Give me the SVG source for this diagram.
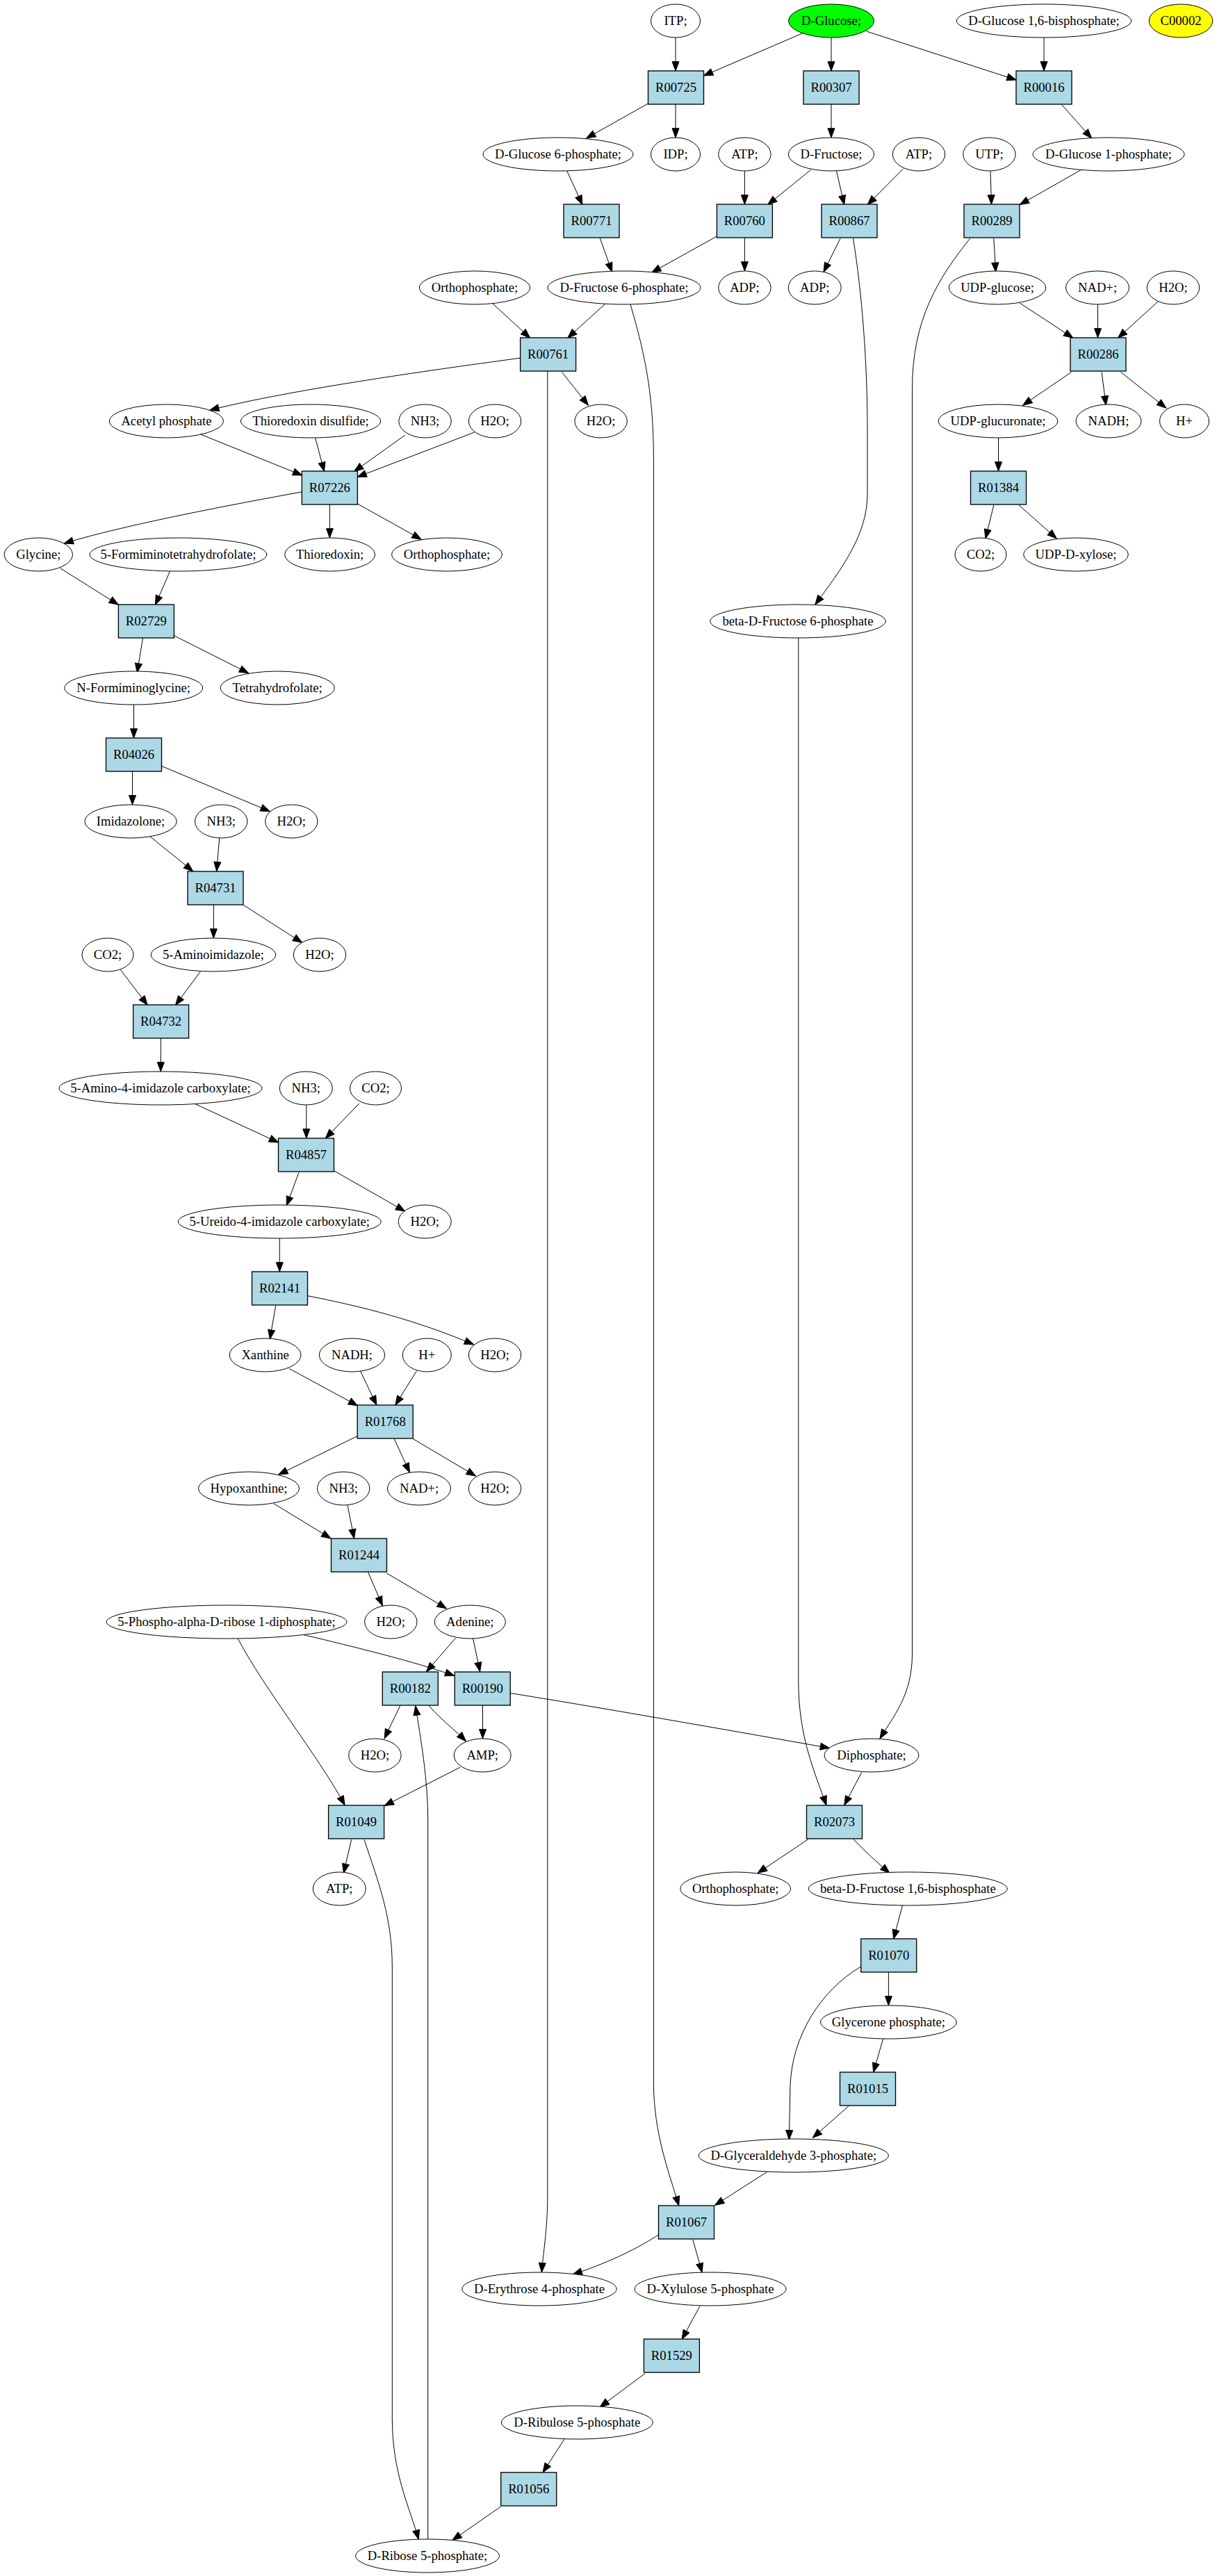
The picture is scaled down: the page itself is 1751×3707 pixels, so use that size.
<svg xmlns="http://www.w3.org/2000/svg" width="1751" height="3707" viewBox="0 0 1751 3707">
<style>
.e{fill:#ffffff;stroke:#000;stroke-width:1}
.b{fill:#add8e6;stroke:#000;stroke-width:1.33}
text{font-family:"Liberation Serif","Times New Roman",serif;font-size:18.67px;text-anchor:middle;fill:#000}
#edges path{fill:none;stroke:#000;stroke-width:1;marker-end:url(#ah)}
</style>
<defs>
<marker id="ah" markerUnits="userSpaceOnUse" markerWidth="16" markerHeight="12" refX="13.3" refY="5" orient="auto" overflow="visible">
<path d="M0,0 L13.3,5 L0,10 z" fill="#000" stroke="#000" stroke-width="1"/>
</marker>
</defs>
<rect x="0" y="0" width="1751" height="3707" fill="#ffffff"/>
<g id="edges">
<path d="M972,54 L972,102"/>
<path d="M1154.4,48 L1012.4,109"/>
<path d="M1196,54 L1196,102"/>
<path d="M1246.5,45 L1462,115"/>
<path d="M1502,54 L1502,102"/>
<path d="M932.5,149 L843.6,199"/>
<path d="M972,150 L972,198"/>
<path d="M1196,150 L1196,198"/>
<path d="M1527.6,150.6 L1570.6,199"/>
<path d="M1071.4,246 L1071.4,294"/>
<path d="M1166.6,244.4 L1104.6,294.6"/>
<path d="M1203.5,246 L1214.7,294.6"/>
<path d="M1299.6,242.8 L1248.2,294.6"/>
<path d="M1425,246 L1426.5,294"/>
<path d="M1555.5,244.4 L1467.2,294.6"/>
<path d="M1031.4,340 L937.6,392.2"/>
<path d="M1071.4,342 L1071.4,390"/>
<path d="M1209,343.2 L1185,391.4"/>
<path d="M1227.5,343 C1240,420 1248,520 1248,620 L1248,711 C1248,770 1210,820 1172.8,870"/>
<path d="M1429.8,343.2 L1432.6,391.4"/>
<path d="M1395.7,343.2 C1350,400 1312.5,460 1312.5,560 L1312.5,2380 C1312.5,2440 1285,2470 1266,2502"/>
<path d="M1467.2,436 L1543.8,486.3"/>
<path d="M1579.5,438 L1579.5,486"/>
<path d="M1666,434 L1608.6,486.3"/>
<path d="M1541.5,535.4 L1471.7,583.2"/>
<path d="M1585,535.4 L1591.3,583.2"/>
<path d="M1612.5,535.4 L1677.8,587.2"/>
<path d="M815.7,246 L838,294.6"/>
<path d="M863.2,342.4 L880.6,391.4"/>
<path d="M708.4,436.5 L762.6,486.3"/>
<path d="M871.6,436.5 L816.8,486.3"/>
<path d="M906.8,437.3 C925,500 940.4,560 940.4,660 L940.4,3000 C941,3070 962,3125 976.7,3174"/>
<path d="M748.7,515.2 C640,530 420,560 301.7,590.3"/>
<path d="M808.4,535.4 L846.4,583.2"/>
<path d="M787.8,534 L787.8,3160 C787.8,3210 781,3245 779.4,3270"/>
<path d="M287.7,624.7 L434.7,684"/>
<path d="M453.6,630 L466.5,678.5"/>
<path d="M582.7,626.3 L509.5,678.5"/>
<path d="M682.7,622 L514,686.4"/>
<path d="M434.7,707.8 C340,725 180,755 92.2,782"/>
<path d="M474.4,726 L474.4,774"/>
<path d="M514,724.8 L606.2,776.2"/>
<path d="M86.6,817.7 L170.4,870.3"/>
<path d="M244.7,821.7 L223.5,870.3"/>
<path d="M205.6,918.1 L197.2,968"/>
<path d="M250.3,914.6 L357.6,968.7"/>
<path d="M192.5,1014 L192.5,1062"/>
<path d="M190.5,1110 L190.5,1158"/>
<path d="M232.4,1102.4 L388.3,1167.6"/>
<path d="M215.1,1203.2 L277.7,1253.8"/>
<path d="M315.7,1206 L311.7,1253.8"/>
<path d="M307.3,1302 L307.3,1350"/>
<path d="M349.7,1302 L434.7,1356.6"/>
<path d="M173.2,1395.4 L212.3,1446.4"/>
<path d="M288.3,1398.2 L252.5,1446.4"/>
<path d="M231.3,1494 L231.3,1542"/>
<path d="M279.4,1588 L400.6,1644.1"/>
<path d="M440.8,1590 L440.8,1638"/>
<path d="M516.8,1588 L468.2,1638.2"/>
<path d="M430.2,1686.8 L412.3,1735"/>
<path d="M480.5,1684.8 L582.7,1743"/>
<path d="M402.3,1782 L402.3,1830"/>
<path d="M396.7,1879 L388.3,1927.2"/>
<path d="M442.5,1864.7 C520,1880 600,1900 681.6,1935"/>
<path d="M416.2,1969.5 L514.6,2022.9"/>
<path d="M518.5,1973 L541.9,2022"/>
<path d="M599.5,1972.7 L568.8,2022"/>
<path d="M514.6,2066.4 L400.6,2122.2"/>
<path d="M567.1,2070.3 L589.4,2119"/>
<path d="M593.9,2070.3 L684.4,2124"/>
<path d="M393.9,2163.7 L476,2213.9"/>
<path d="M500,2165.6 L509.5,2213.9"/>
<path d="M529.6,2262.5 L550.3,2310.8"/>
<path d="M556.5,2264 L642.5,2314.7"/>
<path d="M435.8,2352.3 C510,2370 600,2392 653.7,2411.6"/>
<path d="M341.9,2357.4 C380,2430 460,2530 496.1,2597.8"/>
<path d="M655.4,2357.4 L613.4,2405.7"/>
<path d="M680.5,2357.4 L690.6,2405.7"/>
<path d="M734.1,2436.5 C850,2455 1050,2490 1193.5,2515.6"/>
<path d="M575.5,2455 L553.1,2501.7"/>
<path d="M617.4,2455 C635,2475 655,2490 670.4,2505.7"/>
<path d="M694.5,2454 L694.5,2502"/>
<path d="M615.7,3654 L615.7,2620 C615.7,2560 605,2500 597.8,2455"/>
<path d="M662,2543.3 L553.1,2598.6"/>
<path d="M505.6,2647.3 L494.4,2695.5"/>
<path d="M524,2647.3 C545,2710 564.3,2760 564.3,2830 L564.3,3480 C564.3,3560 590,3610 602.3,3654.3"/>
<path d="M1148.8,918 L1148.8,2420 C1149,2500 1172,2550 1189,2597.8"/>
<path d="M1239.8,2550.4 L1214.7,2597.8"/>
<path d="M1162.7,2646.9 L1090.1,2695.5"/>
<path d="M1228.1,2646.9 C1245,2665 1262,2680 1280,2695.5"/>
<path d="M1298.5,2741.8 L1285.6,2790.4"/>
<path d="M1278.4,2838 L1278.4,2886"/>
<path d="M1238.7,2830 C1180,2865 1140,2930 1137,3000 L1135.4,3079"/>
<path d="M1270.6,2934 L1256.6,2982.2"/>
<path d="M1221.4,3030.4 L1169.4,3076.3"/>
<path d="M1104,3125.2 L1028.6,3173.5"/>
<path d="M947.6,3216 C910,3240 870,3258 824.1,3273"/>
<path d="M996.8,3223 L1010.2,3270.3"/>
<path d="M1006.9,3318.7 L981.2,3366.3"/>
<path d="M928.1,3415.5 L863.2,3463.9"/>
<path d="M811.8,3510.3 L781,3558"/>
<path d="M720.7,3607 L650.9,3655.5"/>
<path d="M1436.5,630 L1436.5,678"/>
<path d="M1429.8,726.8 L1418,775"/>
<path d="M1466,726.8 L1520.3,775"/>
</g>
<g id="nodes">
<g id="n_itp"><ellipse class="e" cx="972" cy="30" rx="35.5" ry="24"/><text x="972" y="36">ITP;</text></g>
<g id="n_dglucose"><ellipse class="e" cx="1196" cy="30" rx="61.5" ry="24" style="fill:#00ff00"/><text x="1196" y="36">D-Glucose;</text></g>
<g id="n_g16bp"><ellipse class="e" cx="1502" cy="30" rx="125.7" ry="24"/><text x="1502" y="36">D-Glucose 1,6-bisphosphate;</text></g>
<g id="n_c00002"><ellipse class="e" cx="1699" cy="30" rx="45.8" ry="24" style="fill:#ffff00"/><text x="1699" y="36">C00002</text></g>
<g id="R00725"><rect class="b" x="932.5" y="102" width="80" height="48"/><text x="972.5" y="132">R00725</text></g>
<g id="R00307"><rect class="b" x="1156" y="102" width="80" height="48"/><text x="1196" y="132">R00307</text></g>
<g id="R00016"><rect class="b" x="1462" y="102" width="80" height="48"/><text x="1502" y="132">R00016</text></g>
<g id="n_g6p"><ellipse class="e" cx="803" cy="222" rx="108" ry="24"/><text x="803" y="228">D-Glucose 6-phosphate;</text></g>
<g id="n_idp"><ellipse class="e" cx="972" cy="222" rx="35.5" ry="24"/><text x="972" y="228">IDP;</text></g>
<g id="n_atp1"><ellipse class="e" cx="1071.4" cy="222" rx="37.7" ry="24"/><text x="1071.4" y="228">ATP;</text></g>
<g id="n_fructose"><ellipse class="e" cx="1196" cy="222" rx="61.7" ry="24"/><text x="1196" y="228">D-Fructose;</text></g>
<g id="n_atp2"><ellipse class="e" cx="1322" cy="222" rx="37.7" ry="24"/><text x="1322" y="228">ATP;</text></g>
<g id="n_utp"><ellipse class="e" cx="1423.4" cy="222" rx="37.7" ry="24"/><text x="1423.4" y="228">UTP;</text></g>
<g id="n_g1p"><ellipse class="e" cx="1595" cy="222" rx="109" ry="24"/><text x="1595" y="228">D-Glucose 1-phosphate;</text></g>
<g id="R00771"><rect class="b" x="811" y="294" width="80" height="48"/><text x="851" y="324">R00771</text></g>
<g id="R00760"><rect class="b" x="1031.4" y="294" width="80" height="48"/><text x="1071.4" y="324">R00760</text></g>
<g id="R00867"><rect class="b" x="1182" y="294" width="80" height="48"/><text x="1222" y="324">R00867</text></g>
<g id="R00289"><rect class="b" x="1387" y="294" width="80" height="48"/><text x="1427" y="324">R00289</text></g>
<g id="n_pi1"><ellipse class="e" cx="683" cy="414" rx="79.6" ry="24"/><text x="683" y="420">Orthophosphate;</text></g>
<g id="n_f6p"><ellipse class="e" cx="898" cy="414" rx="110" ry="24"/><text x="898" y="420">D-Fructose 6-phosphate;</text></g>
<g id="n_adp1"><ellipse class="e" cx="1071.4" cy="414" rx="37.7" ry="24"/><text x="1071.4" y="420">ADP;</text></g>
<g id="n_adp2"><ellipse class="e" cx="1172.2" cy="414" rx="38" ry="24"/><text x="1172.2" y="420">ADP;</text></g>
<g id="n_udpglc"><ellipse class="e" cx="1435" cy="414" rx="69.8" ry="24"/><text x="1435" y="420">UDP-glucose;</text></g>
<g id="n_nad1"><ellipse class="e" cx="1579" cy="414" rx="45.5" ry="24"/><text x="1579" y="420">NAD+;</text></g>
<g id="n_h2o1"><ellipse class="e" cx="1688" cy="414" rx="37.7" ry="24"/><text x="1688" y="420">H2O;</text></g>
<g id="R00761"><rect class="b" x="748.6" y="486" width="80" height="48"/><text x="788.6" y="516">R00761</text></g>
<g id="R00286"><rect class="b" x="1540" y="486" width="80" height="48"/><text x="1580" y="516">R00286</text></g>
<g id="n_acetylp"><ellipse class="e" cx="239.4" cy="606" rx="82" ry="24"/><text x="239.4" y="612">Acetyl phosphate</text></g>
<g id="n_trxss"><ellipse class="e" cx="447" cy="606" rx="100.6" ry="24"/><text x="447" y="612">Thioredoxin disulfide;</text></g>
<g id="n_nh3_1"><ellipse class="e" cx="611.5" cy="606" rx="37.7" ry="24"/><text x="611.5" y="612">NH3;</text></g>
<g id="n_h2o2"><ellipse class="e" cx="712" cy="606" rx="37.7" ry="24"/><text x="712" y="612">H2O;</text></g>
<g id="n_h2o3"><ellipse class="e" cx="864.6" cy="606" rx="37.7" ry="24"/><text x="864.6" y="612">H2O;</text></g>
<g id="n_udpglca"><ellipse class="e" cx="1436" cy="606" rx="85.8" ry="24"/><text x="1436" y="612">UDP-glucuronate;</text></g>
<g id="n_nadh1"><ellipse class="e" cx="1595" cy="606" rx="47" ry="24"/><text x="1595" y="612">NADH;</text></g>
<g id="n_hplus1"><ellipse class="e" cx="1704" cy="606" rx="35.5" ry="24"/><text x="1704" y="612">H+</text></g>
<g id="R07226"><rect class="b" x="434.4" y="678" width="80" height="48"/><text x="474.4" y="708">R07226</text></g>
<g id="R01384"><rect class="b" x="1396.5" y="678" width="80" height="48"/><text x="1436.5" y="708">R01384</text></g>
<g id="n_glycine"><ellipse class="e" cx="55.3" cy="798" rx="49.2" ry="24"/><text x="55.3" y="804">Glycine;</text></g>
<g id="n_fthf"><ellipse class="e" cx="256.5" cy="798" rx="127.4" ry="24"/><text x="256.5" y="804">5-Formiminotetrahydrofolate;</text></g>
<g id="n_trx"><ellipse class="e" cx="474.6" cy="798" rx="65" ry="24"/><text x="474.6" y="804">Thioredoxin;</text></g>
<g id="n_pi2"><ellipse class="e" cx="643" cy="798" rx="79.3" ry="24"/><text x="643" y="804">Orthophosphate;</text></g>
<g id="n_co2_1"><ellipse class="e" cx="1411" cy="798" rx="37" ry="24"/><text x="1411" y="804">CO2;</text></g>
<g id="n_udpxyl"><ellipse class="e" cx="1548" cy="798" rx="75.4" ry="24"/><text x="1548" y="804">UDP-D-xylose;</text></g>
<g id="R02729"><rect class="b" x="170.4" y="870" width="80" height="48"/><text x="210.4" y="900">R02729</text></g>
<g id="n_bf6p"><ellipse class="e" cx="1148" cy="894" rx="126.3" ry="24"/><text x="1148" y="900">beta-D-Fructose 6-phosphate</text></g>
<g id="n_figly"><ellipse class="e" cx="192.2" cy="990" rx="99.5" ry="24"/><text x="192.2" y="996">N-Formiminoglycine;</text></g>
<g id="n_thf"><ellipse class="e" cx="399.2" cy="990" rx="82" ry="24"/><text x="399.2" y="996">Tetrahydrofolate;</text></g>
<g id="R04026"><rect class="b" x="152.5" y="1062" width="80" height="48"/><text x="192.5" y="1092">R04026</text></g>
<g id="n_imidazolone"><ellipse class="e" cx="188" cy="1182" rx="66.2" ry="24"/><text x="188" y="1188">Imidazolone;</text></g>
<g id="n_nh3_2"><ellipse class="e" cx="318.2" cy="1182" rx="37.7" ry="24"/><text x="318.2" y="1188">NH3;</text></g>
<g id="n_h2o4"><ellipse class="e" cx="419.3" cy="1182" rx="37.7" ry="24"/><text x="419.3" y="1188">H2O;</text></g>
<g id="R04731"><rect class="b" x="270" y="1254" width="80" height="48"/><text x="310" y="1284">R04731</text></g>
<g id="n_co2_2"><ellipse class="e" cx="155" cy="1374" rx="37" ry="24"/><text x="155" y="1380">CO2;</text></g>
<g id="n_aminoimid"><ellipse class="e" cx="307" cy="1374" rx="89.7" ry="24"/><text x="307" y="1380">5-Aminoimidazole;</text></g>
<g id="n_h2o5"><ellipse class="e" cx="460" cy="1374" rx="37.7" ry="24"/><text x="460" y="1380">H2O;</text></g>
<g id="R04732"><rect class="b" x="191.6" y="1446" width="80" height="48"/><text x="231.6" y="1476">R04732</text></g>
<g id="n_aicarb"><ellipse class="e" cx="231" cy="1566" rx="146" ry="24"/><text x="231" y="1572">5-Amino-4-imidazole carboxylate;</text></g>
<g id="n_nh3_3"><ellipse class="e" cx="440.3" cy="1566" rx="38" ry="24"/><text x="440.3" y="1572">NH3;</text></g>
<g id="n_co2_3"><ellipse class="e" cx="540.5" cy="1566" rx="37" ry="24"/><text x="540.5" y="1572">CO2;</text></g>
<g id="R04857"><rect class="b" x="400.5" y="1638" width="80" height="48"/><text x="440.5" y="1668">R04857</text></g>
<g id="n_ureido"><ellipse class="e" cx="402.3" cy="1758" rx="146" ry="24"/><text x="402.3" y="1764">5-Ureido-4-imidazole carboxylate;</text></g>
<g id="n_h2o6"><ellipse class="e" cx="611.2" cy="1758" rx="38" ry="24"/><text x="611.2" y="1764">H2O;</text></g>
<g id="R02141"><rect class="b" x="362.5" y="1830" width="80" height="48"/><text x="402.5" y="1860">R02141</text></g>
<g id="n_xanthine"><ellipse class="e" cx="381.6" cy="1950" rx="51.4" ry="24"/><text x="381.6" y="1956">Xanthine</text></g>
<g id="n_nadh2"><ellipse class="e" cx="506.5" cy="1950" rx="47.2" ry="24"/><text x="506.5" y="1956">NADH;</text></g>
<g id="n_hplus2"><ellipse class="e" cx="614.3" cy="1950" rx="35" ry="24"/><text x="614.3" y="1956">H+</text></g>
<g id="n_h2o7"><ellipse class="e" cx="712" cy="1950" rx="37.7" ry="24"/><text x="712" y="1956">H2O;</text></g>
<g id="R01768"><rect class="b" x="514.2" y="2022" width="80" height="48"/><text x="554.2" y="2052">R01768</text></g>
<g id="n_hypox"><ellipse class="e" cx="358" cy="2142" rx="72.6" ry="24"/><text x="358" y="2148">Hypoxanthine;</text></g>
<g id="n_nh3_4"><ellipse class="e" cx="494.2" cy="2142" rx="37.7" ry="24"/><text x="494.2" y="2148">NH3;</text></g>
<g id="n_nad2"><ellipse class="e" cx="603" cy="2142" rx="45.5" ry="24"/><text x="603" y="2148">NAD+;</text></g>
<g id="n_h2o8"><ellipse class="e" cx="712" cy="2142" rx="37.7" ry="24"/><text x="712" y="2148">H2O;</text></g>
<g id="R01244"><rect class="b" x="476.5" y="2214" width="80" height="48"/><text x="516.5" y="2244">R01244</text></g>
<g id="n_prpp"><ellipse class="e" cx="326" cy="2334" rx="173" ry="24"/><text x="326" y="2340">5-Phospho-alpha-D-ribose 1-diphosphate;</text></g>
<g id="n_h2o9"><ellipse class="e" cx="562.3" cy="2334" rx="37.7" ry="24"/><text x="562.3" y="2340">H2O;</text></g>
<g id="n_adenine"><ellipse class="e" cx="676.3" cy="2334" rx="51.1" ry="24"/><text x="676.3" y="2340">Adenine;</text></g>
<g id="R00182"><rect class="b" x="550.3" y="2406" width="80" height="48"/><text x="590.3" y="2436">R00182</text></g>
<g id="R00190"><rect class="b" x="654.2" y="2406" width="80" height="48"/><text x="694.2" y="2436">R00190</text></g>
<g id="n_h2o10"><ellipse class="e" cx="539.4" cy="2526" rx="37.7" ry="24"/><text x="539.4" y="2532">H2O;</text></g>
<g id="n_amp"><ellipse class="e" cx="694.2" cy="2526" rx="41" ry="24"/><text x="694.2" y="2532">AMP;</text></g>
<g id="n_ppi"><ellipse class="e" cx="1254" cy="2526" rx="68" ry="24"/><text x="1254" y="2532">Diphosphate;</text></g>
<g id="R01049"><rect class="b" x="472.6" y="2598" width="80" height="48"/><text x="512.6" y="2628">R01049</text></g>
<g id="R02073"><rect class="b" x="1160.5" y="2598" width="80" height="48"/><text x="1200.5" y="2628">R02073</text></g>
<g id="n_atp3"><ellipse class="e" cx="488.3" cy="2718" rx="38" ry="24"/><text x="488.3" y="2724">ATP;</text></g>
<g id="n_pi3"><ellipse class="e" cx="1058.2" cy="2718" rx="79.3" ry="24"/><text x="1058.2" y="2724">Orthophosphate;</text></g>
<g id="n_bf16bp"><ellipse class="e" cx="1306.3" cy="2718" rx="143" ry="24"/><text x="1306.3" y="2724">beta-D-Fructose 1,6-bisphosphate</text></g>
<g id="R01070"><rect class="b" x="1238.7" y="2790" width="80" height="48"/><text x="1278.7" y="2820">R01070</text></g>
<g id="n_glycerone"><ellipse class="e" cx="1278.4" cy="2910" rx="97.8" ry="24"/><text x="1278.4" y="2916">Glycerone phosphate;</text></g>
<g id="R01015"><rect class="b" x="1208.5" y="2982" width="80" height="48"/><text x="1248.5" y="3012">R01015</text></g>
<g id="n_gap"><ellipse class="e" cx="1141.8" cy="3102" rx="136.6" ry="24"/><text x="1141.8" y="3108">D-Glyceraldehyde 3-phosphate;</text></g>
<g id="R01067"><rect class="b" x="947.5" y="3174" width="80" height="48"/><text x="987.5" y="3204">R01067</text></g>
<g id="n_e4p"><ellipse class="e" cx="776" cy="3294" rx="111.2" ry="24"/><text x="776" y="3300">D-Erythrose 4-phosphate</text></g>
<g id="n_x5p"><ellipse class="e" cx="1022" cy="3294" rx="109" ry="24"/><text x="1022" y="3300">D-Xylulose 5-phosphate</text></g>
<g id="R01529"><rect class="b" x="926.4" y="3366" width="80" height="48"/><text x="966.4" y="3396">R01529</text></g>
<g id="n_ru5p"><ellipse class="e" cx="830.3" cy="3486" rx="109" ry="24"/><text x="830.3" y="3492">D-Ribulose 5-phosphate</text></g>
<g id="R01056"><rect class="b" x="720.7" y="3558" width="80" height="48"/><text x="760.7" y="3588">R01056</text></g>
<g id="n_r5p"><ellipse class="e" cx="615" cy="3678" rx="103.4" ry="24"/><text x="615" y="3684">D-Ribose 5-phosphate;</text></g>
</g>
</svg>
